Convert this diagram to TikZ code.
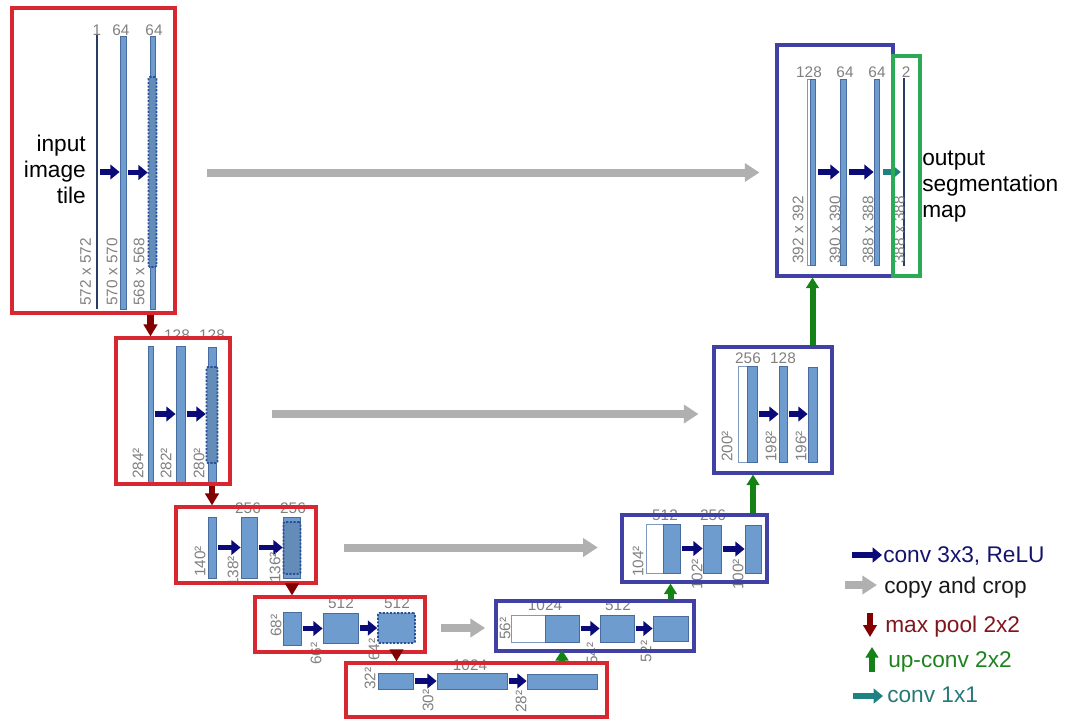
\documentclass[tikz,border=0pt]{standalone}
\usepackage{fontspec}
\setmainfont{Liberation Sans}
\usetikzlibrary{arrows.meta,fit}
\definecolor{barfill}{RGB}{110,156,206}
\definecolor{barline}{RGB}{72,108,158}
\definecolor{dotblue}{RGB}{40,80,150}
\definecolor{navyarr}{RGB}{10,10,120}
\definecolor{arrgray}{RGB}{176,176,176}
\definecolor{pooldark}{RGB}{130,0,0}
\definecolor{upgreen}{RGB}{20,130,20}
\definecolor{tealarr}{RGB}{30,130,130}
\definecolor{boxred}{RGB}{215,40,50}
\definecolor{boxblue}{RGB}{65,65,165}
\definecolor{boxgreen}{RGB}{45,170,85}
\definecolor{labgray}{RGB}{128,128,128}
\definecolor{thinline}{RGB}{40,60,100}
\definecolor{legnavy}{RGB}{20,20,110}
\definecolor{legred}{RGB}{130,20,30}
\definecolor{leggreen}{RGB}{30,130,30}
\definecolor{legteal}{RGB}{40,120,120}
\begin{document}
\begin{tikzpicture}[x=0.75pt,y=-0.75pt,
  bar/.style={draw=barline,fill=barfill,line width=0.6pt,inner sep=0pt},
  wbar/.style={draw=barline!70,fill=white,line width=0.6pt,inner sep=0pt},
  dbar/.style={draw=dotblue,fill=barfill!90!black,line width=1.2pt,dash pattern=on 1.6pt off 1.1pt,inner sep=0pt,rounded corners=1pt},
  thinbar/.style={draw=thinline,line width=0.8pt,inner sep=0pt},
  redbox/.style={draw=boxred,line width=2.3pt,inner sep=0pt},
  bluebox/.style={draw=boxblue,line width=2.3pt,inner sep=0pt},
  greenbox/.style={draw=boxgreen,line width=2.3pt,inner sep=0pt},
  chlab/.style={text=labgray,font=\fontsize{11.5}{13}\selectfont,inner sep=0pt,anchor=base},
  dimlab/.style={text=labgray,font=\fontsize{11.5}{13}\selectfont,inner sep=0pt,rotate=90,anchor=west},
  bigtext/.style={font=\fontsize{17}{19.5}\selectfont,inner sep=0pt},
  legtext/.style={font=\fontsize{17}{19.5}\selectfont,inner sep=0pt,anchor=base west},
  convarrow/.style={draw=navyarr,line width=3.8pt,-{Triangle[width=11pt,length=7pt]},shorten <=1.5pt},
  onearrow/.style={draw=tealarr,line width=3.8pt,-{Triangle[width=11pt,length=7pt]},shorten <=1.5pt},
  copyarrow/.style={draw=arrgray,line width=6pt,-{Triangle[width=13.5pt,length=11pt]}},
  poolarrow/.style={draw=pooldark,line width=5pt,-{Triangle[width=10pt,length=9pt]}},
  uparrow/.style={draw=upgreen,line width=4.5pt,-{Triangle[width=9.5pt,length=8pt]}}
]
\useasboundingbox (0,0) rectangle (1066,719);

% ---------- level 1 left ----------
\node[thinbar,fit={(97,36) (97,308)}] (b11) {};
\node[bar,fit={(120,36) (126,309)}] (b12) {};
\node[bar,fit={(150,36) (155,309)}] (b13) {};
\node[dbar,fit={(148.5,77) (156.5,267)}] (d13) {};
\draw[convarrow] (b11.east) -- (b11.east -| b12.west);
\draw[convarrow] (b12.east) -- (b12.east -| d13.west);
\node[chlab] (n11) at (97,35.5) {1};
\node[chlab] (n12) at (121,35.5) {64};
\node[chlab] (n13) at (154,35.5) {64};
\node[dimlab] (s11) at (85.5,306) {572 x 572};
\node[dimlab] (s12) at (112,306) {570 x 570};
\node[dimlab] (s13) at (139,306) {568 x 568};
\node[bigtext,align=right,anchor=east] (intext) at (86,169) {input\\image\\tile};
\node[redbox,fit={(12,8) (175,313)}] (L1) {};

% ---------- level 1 right ----------
\node[wbar,fit={(807,79) (810,265)}] (w1R) {};
\node[bar,fit={(810,79) (815,265)}] (b1R1) {};
\node[bar,fit={(840,79) (846,265)}] (b1R2) {};
\node[bar,fit={(874,79) (879,265)}] (b1R3) {};
\node[thinbar,fit={(904,79) (904,265)}] (b1R4) {};
\draw[convarrow,shorten <=2pt] (b1R1.east) -- (b1R1.east -| b1R2.west);
\draw[convarrow,shorten <=2pt] (b1R2.east) -- (b1R2.east -| b1R3.west);
\draw[onearrow,shorten <=2.5pt,shorten >=1.5pt] (b1R3.east) -- (b1R3.east -| b1R4.west);
\node[chlab] (n1R1) at (809,77.5) {128};
\node[chlab] (n1R2) at (845,77.5) {64};
\node[chlab] (n1R3) at (877,77.5) {64};
\node[chlab] (n1R4) at (906,77.5) {2};
\node[dimlab] (s1R1) at (798,264) {392 x 392};
\node[dimlab] (s1R2) at (835,264) {390 x 390};
\node[dimlab] (s1R3) at (868,264) {388 x 388};
\node[dimlab] (s1R4) at (899,264) {388 x 388};
\node[bigtext,align=left,anchor=west] (outtext) at (922,187) {output\\segmentation\\map};
\node[bluebox,fit={(777,45) (893,276)}] (R1) {};
\node[greenbox,fit={(893,56) (920,276)}] (G1) {};

% ---------- level 2 left ----------
\node[bar,fit={(148,346) (153,482)}] (b21) {};
\node[bar,fit={(176,346) (185,482)}] (b22) {};
\node[bar,fit={(208,347) (216,482)}] (b23) {};
\node[dbar,fit={(206.5,367) (217.5,463)}] (d23) {};
\draw[convarrow] (b21.east) -- (b21.east -| b22.west);
\draw[convarrow] (b22.east) -- (b22.east -| d23.west);
\node[chlab] (n22) at (177,340.5) {128};
\node[chlab] (n23) at (212,340.5) {128};
\node[dimlab] (s21) at (138,479) {284²};
\node[dimlab] (s22) at (166,479) {282²};
\node[dimlab] (s23) at (199,479) {280²};
\node[redbox,fit={(116,338) (230,484)}] (L2) {};

% ---------- level 2 right ----------
\node[wbar,fit={(738,366) (747,462)}] (w2R) {};
\node[bar,fit={(747,366) (757,462)}] (b2R1) {};
\node[bar,fit={(779,366) (787,462)}] (b2R2) {};
\node[bar,fit={(808,367) (817,462)}] (b2R3) {};
\draw[convarrow] (b2R1.east) -- (b2R1.east -| b2R2.west);
\draw[convarrow] (b2R2.east) -- (b2R2.east -| b2R3.west);
\node[chlab] (n2R1) at (748,363.5) {256};
\node[chlab] (n2R2) at (783,363.5) {128};
\node[dimlab] (s2R1) at (727,462) {200²};
\node[dimlab] (s2R2) at (771,462) {198²};
\node[dimlab] (s2R3) at (801,462) {196²};
\node[bluebox,fit={(714,347) (832,473)}] (R2) {};

% ---------- level 3 left ----------
\node[bar,fit={(208,517) (216,578)}] (b31) {};
\node[bar,fit={(241,517) (257,578)}] (b32) {};
\node[bar,fit={(283,517) (300,578)}] (b33) {};
\node[dbar,fit={(283.5,522) (300.5,574)}] (d33) {};
\draw[convarrow] (b31.east) -- (b31.east -| b32.west);
\draw[convarrow] (b32.east) -- (b32.east -| d33.west);
\node[chlab] (n32) at (248,513) {256};
\node[chlab] (n33) at (293,513) {256};
\node[dimlab] (s31) at (200,577) {140²};
\node[dimlab] (s32) at (233,587) {138²};
\node[dimlab] (s33) at (275,583) {136²};
\node[redbox,fit={(176,507) (316,583)}] (L3) {};

% ---------- level 3 right ----------
\node[wbar,fit={(646,524) (663,573)}] (w3R) {};
\node[bar,fit={(663,524) (680,573)}] (b3R1) {};
\node[bar,fit={(703,525) (721,573)}] (b3R2) {};
\node[bar,fit={(745,525) (761,573)}] (b3R3) {};
\draw[convarrow] (b3R1.east) -- (b3R1.east -| b3R2.west);
\draw[convarrow] (b3R2.east) -- (b3R2.east -| b3R3.west);
\node[chlab] (n3R1) at (665,520.5) {512};
\node[chlab] (n3R2) at (713,520.5) {256};
\node[dimlab] (s3R1) at (638,577) {104²};
\node[dimlab] (s3R2) at (697,590) {102²};
\node[dimlab] (s3R3) at (738,590) {100²};
\node[bluebox,fit={(622,515) (767,582)}] (R3) {};

% ---------- level 4 left ----------
\node[bar,fit={(283,612) (301,645)}] (b41) {};
\node[bar,fit={(323,613) (358,643)}] (b42) {};
\node[dbar,fill=barfill,fit={(378,613) (415,643)}] (d43) {};
\draw[convarrow,shorten <=1pt] (b41.east) -- (b41.east -| b42.west);
\draw[convarrow,shorten <=1pt] (b42.east) -- (b42.east -| d43.west);
\node[chlab] (n42) at (341,608) {512};
\node[chlab] (n43) at (397,608) {512};
\node[dimlab] (s41) at (276,637) {68²};
\node[dimlab] (s42) at (316,665) {66²};
\node[dimlab] (s43) at (374,661) {64²};
\node[redbox,fit={(255,597) (425,652)}] (L4) {};

% ---------- level 4 right ----------
\node[wbar,fit={(511,615) (545,642)}] (w4R) {};
\node[bar,fit={(545,615) (579,642)}] (b4R1) {};
\node[bar,fit={(600,615) (634,642)}] (b4R2) {};
\node[bar,fit={(653,616) (688,641)}] (b4R3) {};
\draw[convarrow,shorten <=1pt] (b4R1.east) -- (b4R1.east -| b4R2.west);
\draw[convarrow,shorten <=1pt] (b4R2.east) -- (b4R2.east -| b4R3.west);
\node[chlab] (n4R1) at (545,610) {1024};
\node[chlab] (n4R2) at (618,610) {512};
\node[dimlab] (s4R1) at (505,640) {56²};
\node[dimlab] (s4R2) at (592,665) {54²};
\node[dimlab] (s4R3) at (646,663) {52²};
\node[bluebox,fit={(496,601) (694,651)}] (R4) {};

% ---------- level 5 ----------
\node[bar,fit={(378,673) (413,689)}] (b51) {};
\node[bar,fit={(437,673) (507,689)}] (b52) {};
\node[bar,fit={(527,674) (597,689)}] (b53) {};
\draw[convarrow,shorten <=1pt] (b51.east) -- (b51.east -| b52.west);
\draw[convarrow,shorten <=1pt] (b52.east) -- (b52.east -| b53.west);
\node[chlab] (n52) at (470,670) {1024};
\node[dimlab] (s51) at (370,690) {32²};
\node[dimlab] (s52) at (428,712) {30²};
\node[dimlab] (s53) at (521,713) {28²};
\node[redbox,fit={(346,663) (607,717)}] (L5) {};

% ---------- copy and crop ----------
\draw[copyarrow,shorten <=23pt,shorten >=12pt] (L1.east |- b13) -- (R1.west |- b13);
\draw[copyarrow,shorten <=30pt,shorten >=10.5pt] (L2.east |- b22) -- (R2.west |- b22);
\draw[copyarrow,shorten <=19.5pt,shorten >=17pt] (L3.east |- b32) -- (R3.west |- b32);
\draw[copyarrow,shorten <=11pt,shorten >=7pt] (L4.east |- b42) -- (R4.west |- b42);

% ---------- max pool ----------
\draw[poolarrow] (b21 |- L1.south) -- (b21 |- L2.north);
\draw[poolarrow] (b31 |- L2.south) -- (b31 |- L3.north);
\draw[poolarrow] (b41 |- L3.south) -- (b41 |- L4.north);
\draw[poolarrow] (d43 |- L4.south) -- (d43 |- L5.north);

% ---------- up-conv ----------
\draw[uparrow,shorten >=-2pt] (b53 |- L5.north) -- (b53 |- R4.south);
\draw[uparrow] (b4R3 |- R4.north) -- (b4R3 |- R3.south);
\draw[uparrow] (b3R3 |- R3.north) -- (b3R3 |- R2.south);
\draw[uparrow] (b2R3 |- R2.north) -- (b2R3 |- R1.south);

% ---------- legend ----------
\coordinate (la1) at (852,555); \coordinate (lb1) at (882,555);
\coordinate (la2) at (845,585); \coordinate (lb2) at (877,585);
\coordinate (la3) at (870,613); \coordinate (lb3) at (870,637);
\coordinate (la4) at (872,672); \coordinate (lb4) at (872,647);
\coordinate (la5) at (853,696); \coordinate (lb5) at (883,696);
\draw[convarrow,shorten <=0pt] (la1) -- (lb1);
\draw[copyarrow] (la2) -- (lb2);
\draw[poolarrow] (la3) -- (lb3);
\draw[uparrow] (la4) -- (lb4);
\draw[onearrow,shorten <=0pt] (la5) -- (lb5);
\node[legtext,text=legnavy] (t1) at (883,562) {conv 3x3, ReLU};
\node[legtext,text=black!90] (t2) at (884,593) {copy and crop};
\node[legtext,text=legred] (t3) at (885,632) {max pool 2x2};
\node[legtext,text=leggreen] (t4) at (888,667) {up-conv 2x2};
\node[legtext,text=legteal] (t5) at (887,702) {conv 1x1};
\end{tikzpicture}
\end{document}
